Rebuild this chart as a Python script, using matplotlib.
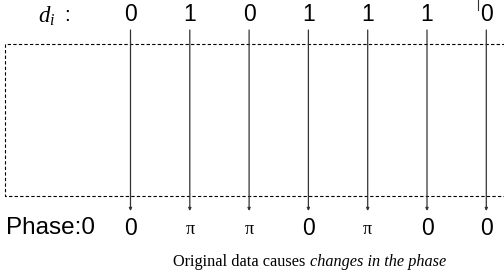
import numpy as np
import matplotlib.pyplot as plt

plt.rcParams['mathtext.fontset'] = 'custom'
plt.rcParams['mathtext.it'] = 'Liberation Serif:italic'
plt.rcParams['mathtext.rm'] = 'Liberation Serif'

# data
bits = ['0', '1', '0', '1', '1', '1', '0']
phases = ['0', 'π', 'π', '0', 'π', '0', '0']

# layout (pixel space, y downwards)
W, H = 504, 274
x0, dx = 130.5, 59.3
y_top_line, y_arrow_end = 30, 211
y_bits, y_phase, y_caption = 14.5, 228.5, 262

fig = plt.figure(figsize=(W/100, H/100), dpi=100)
ax = fig.add_axes([0, 0, 1, 1])
ax.set_xlim(0, W)
ax.set_ylim(H, 0)
ax.axis('off')

# dashed box (right edge runs off the picture)
ax.plot([W + 5, 5, 5, W + 5], [44, 44, 196, 196], color='black', lw=0.8,
        ls=(0, (3, 2)), solid_capstyle='butt')

xs = x0 + dx*np.arange(len(bits))
for x, b, p in zip(xs, bits, phases):
    ax.annotate('', xy=(x, y_arrow_end), xytext=(x, y_top_line),
                arrowprops=dict(arrowstyle='-|>', color='#333333', lw=0.9,
                                mutation_scale=4, shrinkA=0, shrinkB=0))
    ax.text(x, y_bits, b, ha='center', va='center', fontsize=16.5,
            family='Liberation Sans')
    if p == 'π':
        ax.text(x, y_phase + 0.5, p, ha='center', va='center', fontsize=13,
                family='Liberation Serif')
    else:
        ax.text(x, y_phase, p, ha='center', va='center', fontsize=16.5,
                family='Liberation Sans')

# small stray tick near the last bit
ax.plot([478, 478], [0, 10], color='#333333', lw=0.8)

ax.text(47, y_bits + 1.5, r'$d_i$', ha='center', va='center', fontsize=16.5)
ax.text(67, y_bits + 1, ':', ha='center', va='center', fontsize=15,
        family='Liberation Sans')
ax.text(6, y_phase, 'Phase:0', ha='left', va='center', fontsize=17.5,
        family='Liberation Sans')

cap1 = ax.text(173, y_caption, 'Original data causes ', ha='left', va='center',
               fontsize=11.7, family='Liberation Serif')
fig.canvas.draw()
bb = cap1.get_window_extent()
x_next = ax.transData.inverted().transform((bb.x1, bb.y0))[0]
ax.text(x_next, y_caption, 'changes in the phase', ha='left', va='center',
        fontsize=11.7, family='Liberation Serif', style='italic')

fig.savefig('out.png', dpi=100)
